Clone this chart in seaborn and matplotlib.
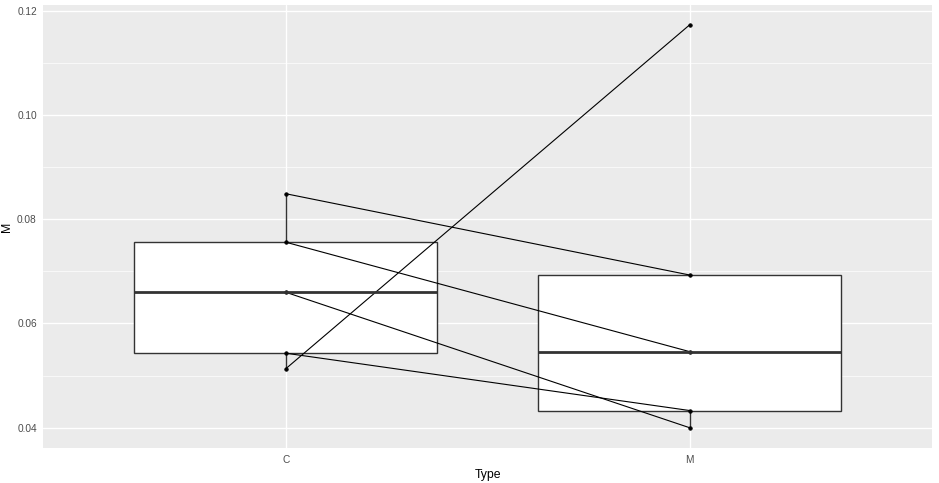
import pandas as pd
import matplotlib
matplotlib.use("Agg")
import matplotlib.pyplot as plt
import seaborn as sns
from matplotlib.ticker import MultipleLocator, FormatStrFormatter

# data: paired values per subject
types = ["C", "M"]
pair_id = [1, 2, 3, 4, 5]
m_C = [0.0849, 0.0756, 0.0660, 0.0543, 0.0513]
m_M = [0.0693, 0.0546, 0.0400, 0.0433, 0.1173]

df = pd.DataFrame({
    "pair": pair_id * 2,
    "Type": ["C"] * len(m_C) + ["M"] * len(m_M),
    "M": m_C + m_M,
})

sns.set_style("darkgrid")
plt.rcParams["font.family"] = ["Liberation Sans", "DejaVu Sans"]

fig = plt.figure(figsize=(9.39, 4.83), dpi=100)
ax = fig.add_axes([0.0461, 0.0718, 0.9465, 0.9178])
ax.set_facecolor("#EBEBEB")

sns.boxplot(data=df, x="Type", y="M", order=types, width=0.75,
            color="white", saturation=1, linecolor="#333333", linewidth=1.0,
            showfliers=False, showcaps=False,
            medianprops=dict(linewidth=2.0, color="#333333"), ax=ax)

sns.pointplot(data=df, x="Type", y="M", order=types, hue="pair",
              palette=["black"] * len(pair_id), errorbar=None,
              markers="o", markersize=2.5, linewidth=0.8,
              legend=False, ax=ax)

ax.set_xlim(-0.6, 1.6)
ax.set_ylim(0.03605, 0.1211)
ax.yaxis.set_major_locator(MultipleLocator(0.02))
ax.yaxis.set_minor_locator(MultipleLocator(0.01))
ax.yaxis.set_major_formatter(FormatStrFormatter("%.2f"))

ax.set_axisbelow(True)
ax.grid(which="major", color="white", linewidth=1.0)
ax.grid(which="minor", axis="y", color="white", linewidth=0.5)
for s in ax.spines.values():
    s.set_visible(False)

ax.tick_params(axis="both", which="major", length=2.7, width=0.8,
               color="#333333", labelcolor="#4D4D4D", labelsize=7.3, pad=2)
ax.tick_params(axis="y", which="minor", length=0)
ax.set_xlabel("Type", fontsize=8.8, color="black", labelpad=3)
ax.set_ylabel("M", fontsize=8.8, color="black", labelpad=3)

fig.savefig("out.png", dpi=100)
